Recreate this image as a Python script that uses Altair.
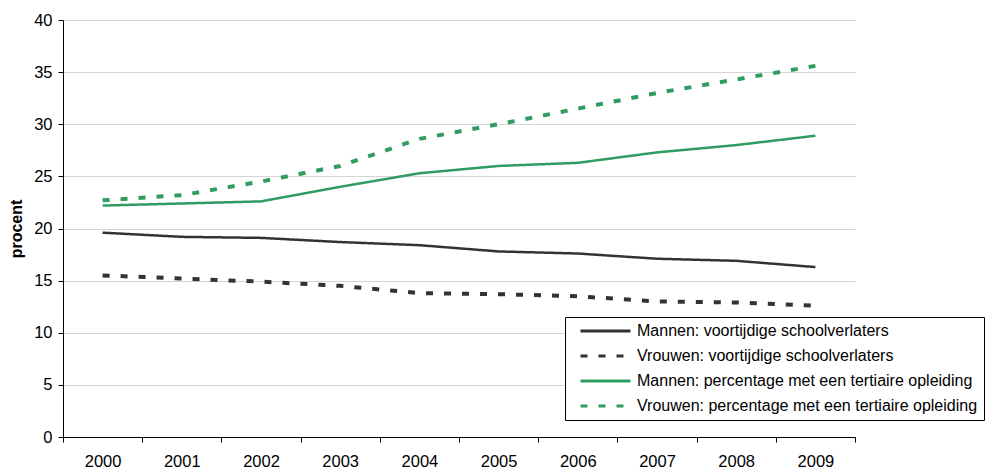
import altair as alt
import pandas as pd

years = ["2000", "2001", "2002", "2003", "2004", "2005", "2006", "2007", "2008", "2009"]
series = [
    "Mannen: voortijdige schoolverlaters",
    "Vrouwen: voortijdige schoolverlaters",
    "Mannen: percentage met een tertiaire opleiding",
    "Vrouwen: percentage met een tertiaire opleiding",
]
mannen_vsv = [19.6, 19.2, 19.1, 18.7, 18.4, 17.8, 17.6, 17.1, 16.9, 16.3]
vrouwen_vsv = [15.5, 15.2, 14.9, 14.5, 13.8, 13.7, 13.5, 13.0, 12.9, 12.6]
mannen_ter = [22.2, 22.4, 22.6, 24.0, 25.3, 26.0, 26.3, 27.3, 28.0, 28.9]
vrouwen_ter = [22.7, 23.2, 24.5, 26.0, 28.6, 30.0, 31.5, 33.0, 34.3, 35.6]

values = [mannen_vsv, vrouwen_vsv, mannen_ter, vrouwen_ter]
rows = []
for s, vals in zip(series, values):
    for y, v in zip(years, vals):
        rows.append({"jaar": y, "reeks": s, "procent": v})
df = pd.DataFrame(rows)

dark = "#333333"
green = "#2f9c62"
color_scale = alt.Scale(domain=series, range=[dark, dark, green, green])
dash_scale = alt.Scale(domain=series, range=[[1, 0], [7, 11], [1, 0], [7, 11]])

x = alt.X("jaar:N", sort=years, title=None,
          axis=alt.Axis(labelAngle=0, tickBand="extent", grid=False, domainColor="#000000",
                        tickColor="#000000", tickSize=5, labelPadding=11, labelFontSize=16.5,
                        labelColor="#000000", labelFont="Liberation Sans"))
y = alt.Y("procent:Q", scale=alt.Scale(domain=[0, 40]), title="procent",
          axis=alt.Axis(values=[0, 5, 10, 15, 20, 25, 30, 35, 40], grid=True, gridColor="#d4d4d4",
                        domainColor="#000000", tickColor="#000000", tickSize=5, labelPadding=6,
                        labelFontSize=16.5, labelColor="#000000", labelFont="Liberation Sans",
                        titleFont="Liberation Sans", titleFontSize=16, titleFontWeight="bold",
                        titleColor="#000000", titlePadding=9))

legend = alt.Legend(title=None, orient="none", legendX=502, legendY=297,
                    strokeColor="#000000", fillColor="#ffffff", padding=6,
                    labelFont="Liberation Sans", labelFontSize=16, labelColor="#000000",
                    symbolType="stroke", symbolSize=2500, symbolStrokeWidth=3,
                    symbolOffset=8, labelOffset=5, rowPadding=9, clipHeight=16,
                    labelLimit=400)

base = alt.Chart(df).encode(
    x=x, y=y,
    color=alt.Color("reeks:N", scale=color_scale, legend=legend, sort=series),
    strokeDash=alt.StrokeDash("reeks:N", scale=dash_scale, legend=legend, sort=series),
)

solid = base.transform_filter(
    alt.FieldOneOfPredicate(field="reeks", oneOf=[series[0], series[2]])
).mark_line(strokeWidth=2.5)
dashed = base.transform_filter(
    alt.FieldOneOfPredicate(field="reeks", oneOf=[series[1], series[3]])
).mark_line(strokeWidth=4)

chart = alt.layer(solid, dashed).properties(
    width=792, height=417,
    autosize=alt.AutoSizeParams(type="none"),
    padding={"left": 55, "top": 12, "right": 131, "bottom": 32},
).configure_view(stroke=None).configure_scale(bandPaddingInner=0, bandPaddingOuter=0)

chart.save("out.html", embed_options={"renderer": "svg", "actions": False})
